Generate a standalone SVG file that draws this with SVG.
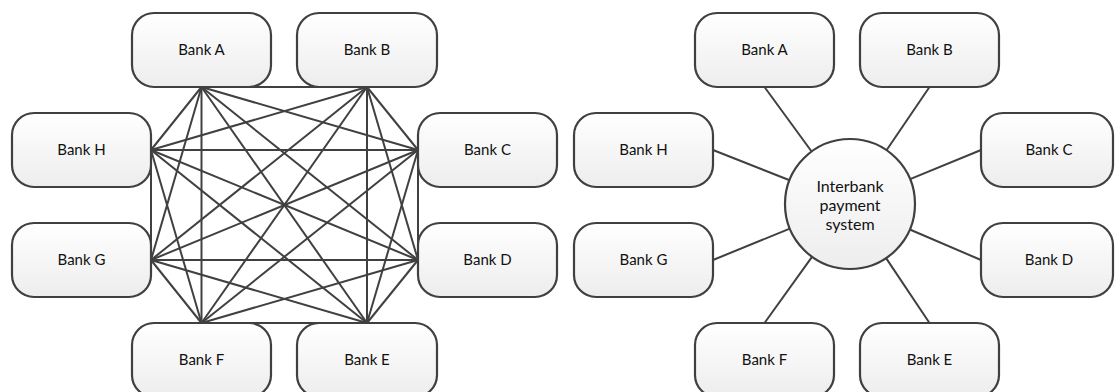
<svg xmlns="http://www.w3.org/2000/svg" width="1115" height="392" viewBox="0 0 1115 392">
<defs>
<linearGradient id="g" x1="0" y1="0" x2="0" y2="1">
<stop offset="0" stop-color="#ffffff"/>
<stop offset="1" stop-color="#ededed"/>
</linearGradient>
<style>
.box{fill:url(#g);stroke:#404040;stroke-width:2.2}
.lbl{font-family:Lato,"Liberation Sans",sans-serif;font-size:15px;fill:#111111;text-anchor:middle}
.clbl{font-family:Lato,"Liberation Sans",sans-serif;font-size:16px;fill:#111111;text-anchor:middle}
.conn line{stroke:#404040;stroke-width:2}
</style>
</defs>
<rect width="1115" height="392" fill="#ffffff"/>
<g id="connectors-left" class="conn">
<line x1="201.5" y1="87" x2="367" y2="87"/>
<line x1="201.5" y1="87" x2="418" y2="150"/>
<line x1="201.5" y1="87" x2="418" y2="260"/>
<line x1="201.5" y1="87" x2="367" y2="323"/>
<line x1="201.5" y1="87" x2="201.5" y2="323"/>
<line x1="201.5" y1="87" x2="151" y2="260"/>
<line x1="201.5" y1="87" x2="151" y2="150"/>
<line x1="367" y1="87" x2="418" y2="150"/>
<line x1="367" y1="87" x2="418" y2="260"/>
<line x1="367" y1="87" x2="367" y2="323"/>
<line x1="367" y1="87" x2="201.5" y2="323"/>
<line x1="367" y1="87" x2="151" y2="260"/>
<line x1="367" y1="87" x2="151" y2="150"/>
<line x1="418" y1="150" x2="418" y2="260"/>
<line x1="418" y1="150" x2="367" y2="323"/>
<line x1="418" y1="150" x2="201.5" y2="323"/>
<line x1="418" y1="150" x2="151" y2="260"/>
<line x1="418" y1="150" x2="151" y2="150"/>
<line x1="418" y1="260" x2="367" y2="323"/>
<line x1="418" y1="260" x2="201.5" y2="323"/>
<line x1="418" y1="260" x2="151" y2="260"/>
<line x1="418" y1="260" x2="151" y2="150"/>
<line x1="367" y1="323" x2="201.5" y2="323"/>
<line x1="367" y1="323" x2="151" y2="260"/>
<line x1="367" y1="323" x2="151" y2="150"/>
<line x1="201.5" y1="323" x2="151" y2="260"/>
<line x1="201.5" y1="323" x2="151" y2="150"/>
<line x1="151" y1="260" x2="151" y2="150"/>
</g>
<g id="connectors-right" class="conn">
<line x1="764.5" y1="87" x2="811.6" y2="151.5"/>
<line x1="929.5" y1="87" x2="886.5" y2="150.2"/>
<line x1="981" y1="150" x2="910.1" y2="179.2"/>
<line x1="981" y1="260" x2="909.8" y2="229.5"/>
<line x1="929.5" y1="323" x2="886.1" y2="258.1"/>
<line x1="764.5" y1="323" x2="812" y2="256.8"/>
<line x1="713" y1="260" x2="789.8" y2="228.6"/>
<line x1="713" y1="150" x2="789.6" y2="180.2"/>
</g>
<g id="L-bankA"><rect class="box" x="132" y="13" width="139" height="74" rx="22"/><text class="lbl" x="201.5" y="55">Bank A</text></g>
<g id="L-bankB"><rect class="box" x="297" y="13" width="140" height="74" rx="22"/><text class="lbl" x="367" y="55">Bank B</text></g>
<g id="L-bankH"><rect class="box" x="12" y="113" width="139" height="74" rx="22"/><text class="lbl" x="81.5" y="155">Bank H</text></g>
<g id="L-bankC"><rect class="box" x="418" y="113" width="139" height="74" rx="22"/><text class="lbl" x="487.5" y="155">Bank C</text></g>
<g id="L-bankG"><rect class="box" x="12" y="223" width="139" height="74" rx="22"/><text class="lbl" x="81.5" y="265">Bank G</text></g>
<g id="L-bankD"><rect class="box" x="418" y="223" width="139" height="74" rx="22"/><text class="lbl" x="487.5" y="265">Bank D</text></g>
<g id="L-bankF"><rect class="box" x="132" y="323" width="139" height="74" rx="22"/><text class="lbl" x="201.5" y="365">Bank F</text></g>
<g id="L-bankE"><rect class="box" x="297" y="323" width="140" height="74" rx="22"/><text class="lbl" x="367" y="365">Bank E</text></g>
<g id="R-bankA"><rect class="box" x="695" y="13" width="139" height="74" rx="22"/><text class="lbl" x="764.5" y="55">Bank A</text></g>
<g id="R-bankB"><rect class="box" x="860" y="13" width="139" height="74" rx="22"/><text class="lbl" x="929.5" y="55">Bank B</text></g>
<g id="R-bankH"><rect class="box" x="574" y="113" width="139" height="74" rx="22"/><text class="lbl" x="643.5" y="155">Bank H</text></g>
<g id="R-bankC"><rect class="box" x="981" y="113" width="132" height="74" rx="22"/><text class="lbl" x="1049" y="155">Bank C</text></g>
<g id="R-bankG"><rect class="box" x="574" y="223" width="139" height="74" rx="22"/><text class="lbl" x="643.5" y="265">Bank G</text></g>
<g id="R-bankD"><rect class="box" x="981" y="223" width="132" height="74" rx="22"/><text class="lbl" x="1049" y="265">Bank D</text></g>
<g id="R-bankF"><rect class="box" x="695" y="323" width="139" height="74" rx="22"/><text class="lbl" x="764.5" y="365">Bank F</text></g>
<g id="R-bankE"><rect class="box" x="860" y="323" width="139" height="74" rx="22"/><text class="lbl" x="929.5" y="365">Bank E</text></g>
<g id="R-center"><circle class="box" cx="850" cy="204" r="65"/>
<text class="clbl" x="850" y="192">Interbank</text>
<text class="clbl" x="850" y="211">payment</text>
<text class="clbl" x="850" y="230">system</text></g>
</svg>
